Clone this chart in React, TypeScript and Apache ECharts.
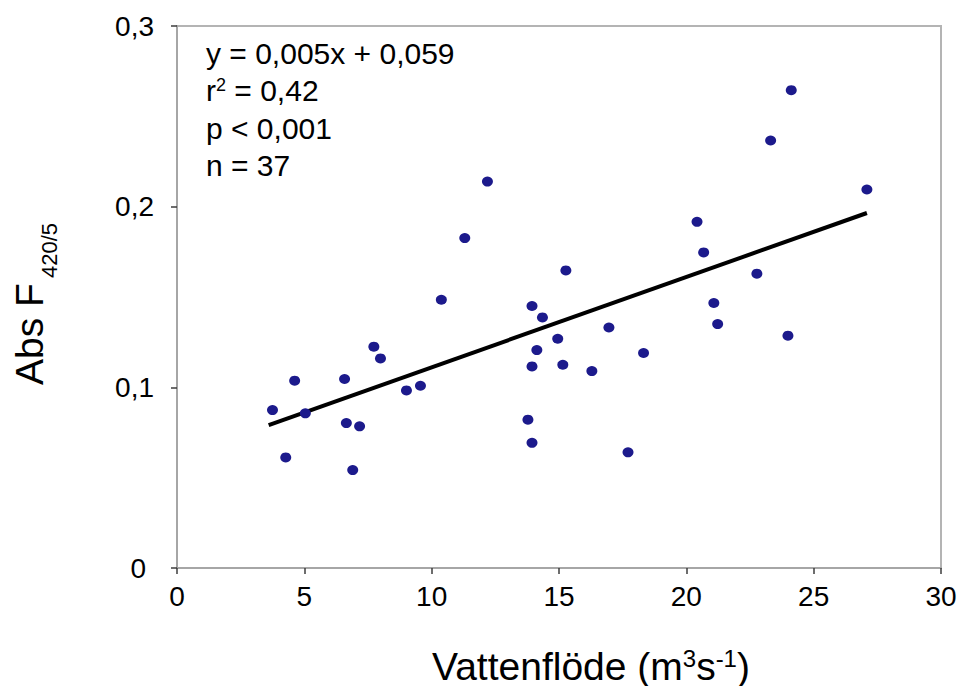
import React, { useEffect, useRef } from "react";
import * as echarts from "echarts";

// Vattenflöde (m3 s-1)
const flowValues = [
  3.75, 4.27, 4.62, 5.04, 6.58, 6.65, 6.9, 7.17, 7.73, 7.99, 9.01, 9.56, 10.38,
  11.3, 12.19, 13.78, 13.94, 13.94, 13.94, 14.13, 14.35, 14.95, 15.15, 15.27,
  16.29, 16.96, 17.71, 18.32, 20.42, 20.68, 21.08, 21.23, 22.77, 23.31, 23.99,
  24.12, 27.09,
];
// Abs F420/5
const absValues = [
  0.0874, 0.0612, 0.1037, 0.0856, 0.1046, 0.0802, 0.0542, 0.0784, 0.1225,
  0.116, 0.0983, 0.1009, 0.1485, 0.1826, 0.2139, 0.0821, 0.145, 0.1116, 0.0693,
  0.1206, 0.1387, 0.1269, 0.1125, 0.1647, 0.109, 0.1331, 0.064, 0.119, 0.1916,
  0.1747, 0.1467, 0.135, 0.1629, 0.2366, 0.1286, 0.2645, 0.2095,
];
// regression line end points
const trendX = [3.6, 27.09];
const trendY = [0.0791, 0.1965];

const statsLines = [
  "y = 0,005x + 0,059",
  "r{sup|2} = 0,42",
  "p < 0,001",
  "n = 37",
];
const yTitleMain = "Abs F";
const yTitleSub = "420/5";
const xTitleRich = "Vattenflöde (m{sup|3}s{sup|-1})";

const FONT = "'Liberation Sans', Arial, Helvetica, sans-serif";

export default function App() {
  const ref = useRef<HTMLDivElement>(null);

  useEffect(() => {
    if (!ref.current) return;
    const chart = echarts.init(ref.current, undefined, { renderer: "svg" });

    const scatterData = flowValues.map((x, i) => [x, absValues[i]]);
    const trendData = trendX.map((x, i) => [x, trendY[i]]);

    const statsGraphics = statsLines.map((t, i) => ({
      type: "text",
      x: 206,
      y: 53 + i * 37.5,
      z: 100,
      style: {
        text: t,
        fill: "#000",
        fontSize: 30,
        fontFamily: FONT,
        align: "left",
        verticalAlign: "middle",
        rich: {
          sup: {
            fontSize: 18,
            fontFamily: FONT,
            fill: "#000",
            verticalAlign: "top",
          },
        },
      },
    }));

    chart.setOption({
      animation: false,
      backgroundColor: "#ffffff",
      grid: {
        left: 177,
        right: 19,
        top: 26,
        bottom: 118,
        show: true,
        borderColor: "#b4b4b4",
        borderWidth: 2,
        containLabel: false,
      },
      xAxis: {
        type: "value",
        min: 0,
        max: 30,
        interval: 5,
        splitLine: { show: false },
        axisLine: {
          show: true,
          onZero: false,
          lineStyle: { color: "#a6a6a6", width: 2 },
        },
        axisTick: {
          show: true,
          inside: false,
          length: 6,
          lineStyle: { color: "#3c3c3c", width: 1.5 },
        },
        axisLabel: {
          color: "#000",
          fontSize: 28,
          fontFamily: FONT,
          margin: 14,
        },
      },
      yAxis: {
        type: "value",
        min: 0,
        max: 0.3,
        interval: 0.1,
        splitLine: { show: false },
        axisLine: {
          show: true,
          onZero: false,
          lineStyle: { color: "#a6a6a6", width: 2 },
        },
        axisTick: {
          show: true,
          inside: false,
          length: 6,
          lineStyle: { color: "#3c3c3c", width: 1.5 },
        },
        axisLabel: {
          color: "#000",
          fontSize: 28,
          fontFamily: FONT,
          margin: 23,
          formatter: (v: number) =>
            v === 0 ? "{z|0}" : v.toFixed(1).replace(".", ","),
          rich: {
            z: {
              fontSize: 28,
              fontFamily: FONT,
              color: "#000",
              padding: [0, 8, 0, 0],
            },
          },
        },
      },
      series: [
        {
          type: "line",
          data: trendData,
          symbol: "none",
          lineStyle: { color: "#000", width: 4, cap: "butt" },
          z: 2,
          silent: true,
        },
        {
          type: "scatter",
          data: scatterData,
          symbol: "circle",
          symbolSize: [11, 10],
          itemStyle: { color: "#1c1a8c", opacity: 1 },
          z: 3,
        },
      ],
      graphic: [
        ...statsGraphics,
        {
          type: "text",
          x: 29,
          y: 385,
          rotation: Math.PI / 2,
          style: {
            text: yTitleMain,
            fill: "#000",
            fontSize: 39,
            fontFamily: FONT,
            align: "left",
            verticalAlign: "middle",
          },
        },
        {
          type: "text",
          x: 49.5,
          y: 278,
          rotation: Math.PI / 2,
          style: {
            text: yTitleSub,
            fill: "#000",
            fontSize: 22,
            fontFamily: FONT,
            align: "left",
            verticalAlign: "middle",
          },
        },
        {
          type: "text",
          x: 591,
          y: 666,
          style: {
            text: xTitleRich,
            fill: "#000",
            fontSize: 39,
            fontFamily: FONT,
            align: "center",
            verticalAlign: "middle",
            rich: {
              sup: {
                fontSize: 24,
                fontFamily: FONT,
                fill: "#000",
                verticalAlign: "top",
              },
            },
          },
        },
      ],
    });

    return () => chart.dispose();
  }, []);

  return (
    <div
      ref={ref}
      style={{ position: "fixed", left: 0, top: 0, width: 960, height: 686 }}
    />
  );
}
